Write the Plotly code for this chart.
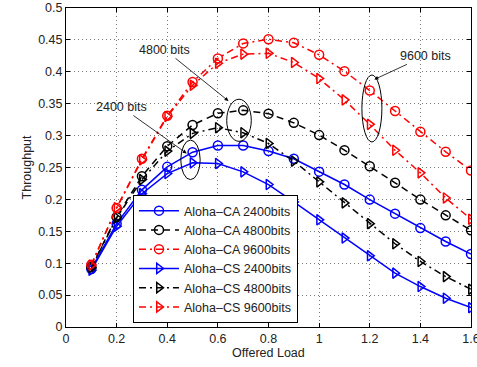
import plotly.graph_objects as go

offered_load = [0.1, 0.2, 0.3, 0.4, 0.5, 0.6, 0.7, 0.8, 0.9, 1.0, 1.1, 1.2, 1.3, 1.4, 1.5, 1.6]

ca_2400 = [0.091, 0.162, 0.215, 0.251, 0.274, 0.2845, 0.2845, 0.2757, 0.2636, 0.2435, 0.2233, 0.1997, 0.1777, 0.155, 0.134, 0.1143]
ca_4800 = [0.094, 0.1725, 0.2364, 0.2835, 0.3166, 0.335, 0.3396, 0.3344, 0.320, 0.3008, 0.2772, 0.252, 0.226, 0.1997, 0.175, 0.1515]
ca_9600 = [0.0975, 0.1866, 0.2637, 0.331, 0.384, 0.421, 0.4445, 0.451, 0.4455, 0.4266, 0.401, 0.3706, 0.3386, 0.306, 0.2746, 0.2453]
cs_2400 = [0.089, 0.158, 0.209, 0.2405, 0.2573, 0.2563, 0.2432, 0.2233, 0.196, 0.168, 0.1394, 0.1116, 0.0844, 0.0634, 0.0451, 0.0303]
cs_4800 = [0.093, 0.171, 0.231, 0.2757, 0.3035, 0.3124, 0.3045, 0.2877, 0.260, 0.2275, 0.1945, 0.162, 0.1305, 0.1027, 0.079, 0.0592]
cs_9600 = [0.097, 0.187, 0.262, 0.33, 0.379, 0.4135, 0.4277, 0.429, 0.4146, 0.3894, 0.356, 0.3176, 0.277, 0.2416, 0.2023, 0.169]

series_names = ["Aloha–CA 2400bits", "Aloha–CA 4800bits", "Aloha–CA 9600bits",
                "Aloha–CS 2400bits", "Aloha–CS 4800bits", "Aloha–CS 9600bits"]
series_values = [ca_2400, ca_4800, ca_9600, cs_2400, cs_4800, cs_9600]
series_colors = ["#0000FF", "#000000", "#FF0000", "#0000FF", "#000000", "#FF0000"]
series_dash = ["solid", "7px,5px", "7px,4px,2px,4px", "solid", "7px,4px,2px,4px", "7px,4px,2px,4px"]
series_symbol = ["circle-open", "circle-open", "circle-open",
                 "triangle-right-open", "triangle-right-open", "triangle-right-open"]

x_title = "Offered Load"
y_title = "Throughput"

# annotation labels: text, text position, arrow head
note_labels = ["2400 bits", "4800 bits", "9600 bits"]
note_text_xy = [(0.219, 0.3448), (0.391, 0.4344), (1.4195, 0.425)]
note_head_xy = [(0.477, 0.272), (0.642, 0.3542), (1.218, 0.388)]
# ellipses (x0, x1, y0, y1)
ellipses = [(0.4535, 0.530, 0.231, 0.293), (0.635, 0.732, 0.291, 0.357), (1.169, 1.248, 0.290, 0.395)]

FONT = "Liberation Sans, Arial, sans-serif"
TXT = "#222"

fig = go.Figure()
for name, vals, col, dash, sym in zip(series_names, series_values, series_colors, series_dash, series_symbol):
    fig.add_trace(go.Scatter(
        x=offered_load, y=vals, name=name, mode="lines+markers",
        line=dict(color=col, width=1.5, dash=dash),
        marker=dict(symbol=sym, size=9, color=col, line=dict(width=1.5, color=col)),
    ))

for (x0, x1, y0, y1) in ellipses:
    fig.add_shape(type="circle", xref="x", yref="y", x0=x0, x1=x1, y0=y0, y1=y1,
                  line=dict(color="black", width=1))

for lab, (tx, ty), (hx, hy) in zip(note_labels, note_text_xy, note_head_xy):
    fig.add_annotation(x=hx, y=hy, ax=tx, ay=ty, xref="x", yref="y", axref="x", ayref="y",
                       text=lab, showarrow=True, arrowhead=2, arrowsize=1, arrowwidth=0.8,
                       arrowcolor="black", font=dict(family=FONT, size=12.5, color=TXT))

# axis titles as paper annotations
fig.add_annotation(x=0.5, y=-0.0815, xref="paper", yref="paper", text=x_title, showarrow=False,
                   xanchor="center", yanchor="middle", font=dict(family=FONT, size=12.5, color=TXT))
fig.add_annotation(x=-0.0965, y=0.5, xref="paper", yref="paper", text=y_title, showarrow=False,
                   textangle=-90, xanchor="center", yanchor="middle",
                   font=dict(family=FONT, size=12.5, color=TXT))

axis_common = dict(
    showline=True, linecolor="black", linewidth=1, mirror="ticks",
    ticks="inside", ticklen=4, tickcolor="black",
    showgrid=True, gridcolor="#777", griddash="1px,3px", gridwidth=1,
    zeroline=False, automargin=False, ticklabeloverflow="allow",
    tickfont=dict(family=FONT, size=12.5, color=TXT),
)

fig.update_xaxes(range=[0, 1.6], dtick=0.2, tick0=0, **axis_common)
fig.update_yaxes(range=[0, 0.5], dtick=0.05, tick0=0, **axis_common)

fig.update_layout(
    width=477, height=367,
    margin=dict(l=66, r=6, t=8, b=40, autoexpand=False),
    paper_bgcolor="white", plot_bgcolor="white",
    showlegend=True,
    legend=dict(x=0.1654, y=0.0125, xanchor="left", yanchor="bottom",
                bgcolor="white", bordercolor="black", borderwidth=1,
                font=dict(family=FONT, size=12.5, color=TXT),
                tracegroupgap=0, itemwidth=40),
)

fig.write_html("out.html", config={"displayModeBar": False},
               post_script="document.body.style.margin='0';document.body.style.overflow='hidden';")
